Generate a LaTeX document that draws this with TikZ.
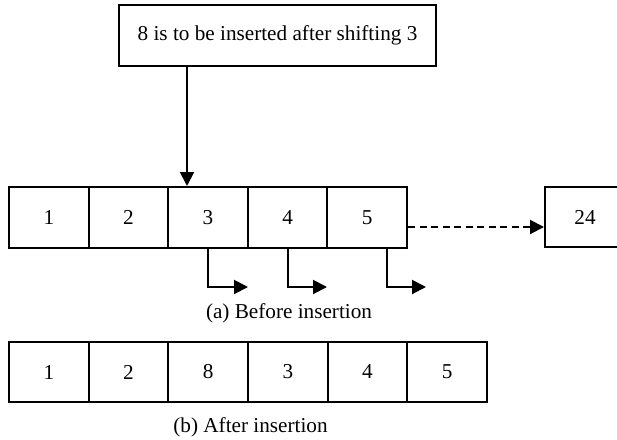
\documentclass[tikz,border=0pt]{standalone}
\usepackage{fontspec}
\setmainfont{Liberation Serif}
\usetikzlibrary{arrows.meta}
\begin{document}
\begin{tikzpicture}[x=1pt,y=-1pt,
  every node/.style={font=\fontsize{21.2}{25}\selectfont, inner sep=0pt},
  cellA/.style={draw, line width=2pt, minimum width=79.6pt, minimum height=61pt},
  cellB/.style={draw, line width=2pt, minimum width=79.67pt, minimum height=60pt},
  arr/.style={line width=2pt, -{Triangle[length=14pt,width=14pt]}},
  darr/.style={arr, dash pattern=on 7pt off 4.5pt}]
\useasboundingbox (0,0) rectangle (617,439);
\node[draw, line width=2pt, minimum width=317pt, minimum height=61pt] (top) at (277.5,35.5) {8 is to be inserted after shifting 3};
\node[cellA] (a1) at (48.8,217.5) {1};
\node[cellA] (a2) at (128.4,217.5) {2};
\node[cellA] (a3) at (208,217.5) {3};
\node[cellA] (a4) at (287.6,217.5) {4};
\node[cellA] (a5) at (367.2,217.5) {5};
\node[draw, line width=2pt, minimum width=80pt, minimum height=60pt] (b24) at (585,217) {24};
\coordinate (t) at ([xshift=69pt]top.south west);
\draw[arr] (t) -- (t |- a3.north);
\coordinate (d) at ([yshift=-9.5pt]a5.east);
\draw[darr] (d) -- (d -| b24.west);
\coordinate (e1) at (248,287);
\coordinate (e2) at (327,287);
\coordinate (e3) at (426,287);
\draw[arr] (a3.south) |- (e1);
\draw[arr] (a4.south) |- (e2);
\coordinate (f) at ([xshift=20pt]a5.south);
\draw[arr] (f) |- (e3);
\node[anchor=base] (capa) at (289,318) {(a) Before insertion};
\node[cellB] (b1) at (48.8,372) {1};
\node[cellB] (b2) at (128.5,372) {2};
\node[cellB] (b3) at (208.2,372) {8};
\node[cellB] (b4) at (287.8,372) {3};
\node[cellB] (b5) at (367.5,372) {4};
\node[cellB] (b6) at (447.2,372) {5};
\node[anchor=base] (capb) at (250.5,432) {(b) After insertion};
\end{tikzpicture}
\end{document}
